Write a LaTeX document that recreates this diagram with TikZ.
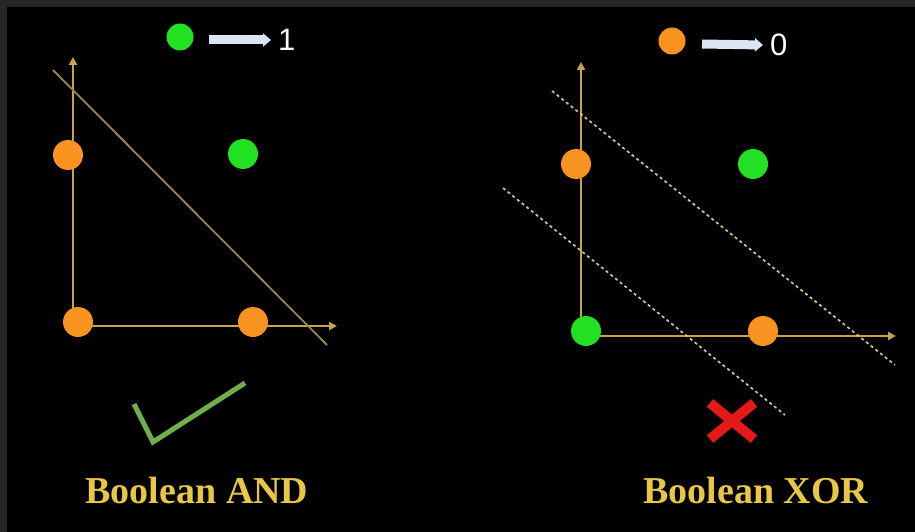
\documentclass[tikz,border=0pt]{standalone}
\usepackage{fontspec}
\setmainfont{Liberation Serif}
\newfontfamily\digitfont{Liberation Sans}
\usetikzlibrary{calc,arrows.meta}
\usetikzlibrary{positioning}
\definecolor{framegray}{HTML}{262626}
\definecolor{dotorange}{HTML}{F7931E}
\definecolor{dotgreen}{HTML}{22E022}
\definecolor{axisgold}{HTML}{C9A443}
\definecolor{linetan}{HTML}{9A8848}
\definecolor{dashtan}{HTML}{D4C58A}
\definecolor{arrowpale}{HTML}{DCE6F2}
\definecolor{labelgold}{HTML}{E9C645}
\definecolor{tickgreen}{HTML}{6FAF4C}
\definecolor{crossred}{HTML}{E41A1A}

\begin{document}
\begin{tikzpicture}[x=1pt, y=-1pt,
    dot/.style={circle, inner sep=0pt, minimum size=30pt},
    zero/.style={dot, fill=dotorange},
    one/.style={dot, fill=dotgreen},
    keydot/.style={circle, inner sep=0pt, minimum size=27pt},
    axis/.style={draw=axisgold, line width=2pt, -{Triangle[width=8pt,length=8pt]}},
    keyarrow/.style={draw=arrowpale, line width=9pt, -{Triangle[width=13pt,length=8pt]}},
    keytext/.style={text=white, font=\digitfont\fontsize{31}{31}\selectfont, inner sep=0pt},
    split/.style={draw=linetan, line width=1.8pt},
    splitdash/.style={draw=dashtan, line width=1.7pt, dash pattern=on 3pt off 3pt},
    title/.style={text=labelgold, font=\bfseries\fontsize{38}{40}\selectfont, anchor=base, inner sep=0pt}
]
    % background and frame
    \fill[framegray] (0,0) rectangle (915,532);
    \fill[black] (7,7) rectangle (915,532);
    \useasboundingbox (0,0) rectangle (915,532);

    % legend
    \node[keydot, fill=dotgreen] (keyOne) at (180,37) {};
    \coordinate (keyOneA) at (209,40);
    \node[keytext, anchor=west] (valOne) at (278,40) {1};
    \draw[keyarrow] (keyOneA) -- ($(valOne.west)+(-7,0)$);
    \node[keydot, fill=dotorange] (keyZero) at (672,41) {};
    \coordinate (keyZeroA) at (702,44);
    \node[keytext, anchor=west] (valZero) at (770,45) {0};
    \draw[keyarrow] (keyZeroA) -- ($(valZero.west)+(-7,0)$);

    % Boolean AND
    \coordinate (andO) at (73,326);
    \coordinate (andX) at (337,326);
    \coordinate (andY) at (73,57);
    \draw[axis] (andO) -- (andX);
    \draw[axis] (andO) -- (andY);
    \coordinate (andS) at (53,70);
    \coordinate (andE) at (327,345);
    \draw[split] (andS) -- (andE);
    \foreach \name/\kind/\px/\py in {a00/zero/78/322, a10/zero/253/322, a01/zero/68/155, a11/one/243/154} {
        \node[\kind] (\name) at (\px,\py) {};
    }
    \coordinate (tickA) at (134,404);
    \coordinate (tickB) at (153,442);
    \coordinate (tickC) at (245,383);
    \draw[tickgreen, line width=5pt] (tickA) -- (tickB) -- (tickC);
    \node[title] (andLabel) at (197,503) {Boolean AND};

    % Boolean XOR
    \coordinate (xorO) at (581,336);
    \coordinate (xorX) at (896,336);
    \coordinate (xorY) at (581,62);
    \draw[axis] (xorO) -- (xorX);
    \draw[axis] (xorO) -- (xorY);
    \coordinate (upS) at (552,91);
    \coordinate (upE) at (895,365);
    \coordinate (lowS) at (503,188);
    \coordinate (lowE) at (785,415);
    \draw[splitdash] (upS) -- (upE);
    \draw[splitdash] (lowS) -- (lowE);
    \foreach \name/\kind/\px/\py in {x00/one/586/331, x10/zero/763/331, x01/zero/576/164, x11/one/753/164} {
        \node[\kind] (\name) at (\px,\py) {};
    }
    \coordinate (crossC) at (732,421);
    \draw[crossred, line width=10pt] ($(crossC)+(-22,-18)$) -- ($(crossC)+(22,18)$);
    \draw[crossred, line width=10pt] ($(crossC)+(-22,18)$) -- ($(crossC)+(22,-18)$);
    \node[title] (xorLabel) at (756,503) {Boolean XOR};
\end{tikzpicture}
\end{document}
